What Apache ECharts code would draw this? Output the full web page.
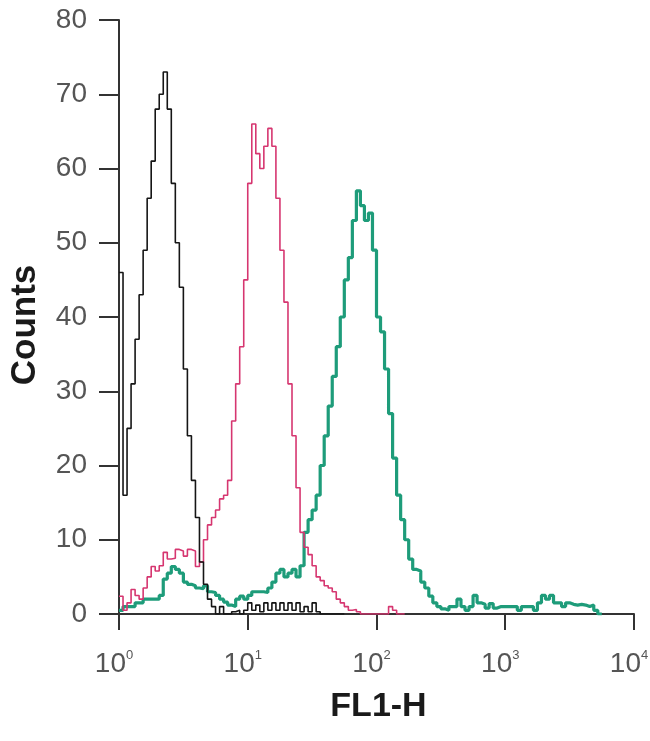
<!DOCTYPE html>
<html>
<head>
<meta charset="utf-8">
<script src="https://cdn.jsdelivr.net/npm/echarts@6/dist/echarts.min.js"></script>
<style>
  html, body { margin: 0; padding: 0; background: #ffffff; }
  #chart { width: 650px; height: 741px; }
</style>
</head>
<body>
<div id="chart"></div>
<script>
// Histogram channels: 32 channels per decade, channel c corresponds to FL1-H = 10^(c/32)
const channelsPerDecade = 32;

// Black (control) histogram counts, from channel 0
const blackCounts = [
  46, 16, 25, 31, 37, 43, 49, 56, 61, 68,
  70, 73, 68, 58, 50, 44, 33, 24, 18, 13,
  7, 4, 2, 1, 0, 1, 0, 0, 0.3, 0.5,
  0, 0.5, 1.5, 0.5, 1.2, 0.3, 1.5, 0.5, 1.5, 0.5,
  1.5, 0.5, 1.5, 0.5, 1.5, 0.3, 1, 0.3, 1.5, 0.3,
  0, 0, 0, 0, 0, 0
];

// Magenta histogram counts, from channel 0
const magentaCounts = [
  2.4, 0.5, 1.5, 3.3, 2.5, 2, 3.5, 5, 6.4, 5.8,
  6.5, 8.3, 7.4, 7.5, 8.7, 8.5, 7.8, 8.7, 8.5, 6.4,
  7, 10, 12, 13, 14, 15.5, 16, 18, 26, 31,
  36, 45, 58, 66, 62, 60, 63, 65.4, 63, 56,
  49, 42, 31, 24, 17, 11, 9, 8, 6.5, 5,
  4.5, 3.8, 3.5, 3, 2, 1.5, 1, 0.5, 0.6, 0.3,
  0, 0, 0, 0, 0, 0, 0, 1, 0.5, 0,
  0
];

// Green histogram counts, from channel 0
const greenCounts = [
  0.5, 1, 1, 1, 1.5, 1.5, 2, 2, 2, 2,
  2.5, 4.7, 5.5, 6.4, 6, 5.5, 4.3, 4, 3.8, 3.5,
  3.4, 3.8, 3, 2.9, 2.5, 2, 1.6, 1.2, 1, 2,
  2.4, 2, 2.5, 3, 3, 3, 2.9, 3.5, 4.3, 5.5,
  6, 5, 5.5, 6, 5, 6.5, 11, 12.7, 14, 16,
  20, 24, 28, 32, 36, 40, 45, 48, 53, 57,
  55, 53, 54, 49, 40, 38, 33, 27, 21, 16,
  12.7, 10, 7.4, 6, 5.8, 4.3, 3.5, 2.4, 1.5, 1,
  0.7, 0.5, 1, 1, 2, 1, 0.5, 1, 2.5, 1.5,
  1.3, 0.8, 1.4, 0.8, 1, 1, 1, 1, 1, 0.5,
  1, 1, 1, 0.5, 1.5, 2.5, 2, 2.5, 1.5, 1.5,
  1, 1.5, 1.3, 1.2, 1.3, 1.2, 1, 1.2, 0.5, 0
];

// Axis ticks
const xTickExponents = [0, 1, 2, 3, 4];
const yTicks = [0, 10, 20, 30, 40, 50, 60, 70, 80];
const xAxisTitle = 'FL1-H';
const yAxisTitle = 'Counts';

function toSeriesData(counts) {
  const pts = counts.map((c, i) => [Math.pow(10, i / channelsPerDecade), c]);
  // closing edge of the last bin
  pts.push([Math.pow(10, counts.length / channelsPerDecade), counts[counts.length - 1]]);
  return pts;
}

const tickFont = "'Liberation Sans', Arial, sans-serif";
const titleFont = "'Liberation Sans', Arial, sans-serif";
const tickColor = '#555555';
const axisColor = '#333333';

const chart = echarts.init(document.getElementById('chart'), null, { renderer: 'canvas' });
chart.setOption({
  animation: false,
  backgroundColor: '#ffffff',
  grid: { left: 119, right: 16, top: 20, bottom: 127, containLabel: false, outerBoundsMode: 'none' },
  xAxis: {
    type: 'log',
    logBase: 10,
    min: Math.pow(10, xTickExponents[0]),
    max: Math.pow(10, xTickExponents[xTickExponents.length - 1]),
    name: xAxisTitle,
    nameLocation: 'middle',
    nameGap: 76,
    nameTextStyle: { fontFamily: titleFont, fontWeight: 'bold', fontSize: 34, color: '#1a1a1a', padding: [0, 0, 0, 4] },
    axisLine: { show: true, lineStyle: { color: axisColor, width: 2 } },
    axisTick: { show: true, inside: false, length: 16, lineStyle: { color: axisColor, width: 2 } },
    minorTick: { show: false },
    splitLine: { show: false },
    axisLabel: {
      margin: 35,
      padding: [0, 10, 0, 0],
      formatter: function (v) {
        const e = Math.round(Math.log10(v));
        return '{b|10}{s|' + e + '}';
      },
      rich: {
        b: { fontFamily: tickFont, fontSize: 28, color: tickColor, lineHeight: 30 },
        s: { fontFamily: tickFont, fontSize: 13, color: tickColor, verticalAlign: 'top', lineHeight: 26 }
      }
    }
  },
  yAxis: {
    type: 'value',
    min: yTicks[0],
    max: yTicks[yTicks.length - 1],
    interval: yTicks[1] - yTicks[0],
    name: yAxisTitle,
    nameLocation: 'middle',
    nameRotate: 90,
    nameGap: 76,
    nameTextStyle: { fontFamily: titleFont, fontWeight: 'bold', fontSize: 35, color: '#1a1a1a', padding: [0, 16, 0, 0] },
    axisLine: { show: true, lineStyle: { color: axisColor, width: 2 } },
    axisTick: { show: true, inside: false, length: 20, lineStyle: { color: axisColor, width: 2 } },
    splitLine: { show: false },
    axisLabel: { margin: 32, fontFamily: tickFont, fontSize: 28, color: tickColor }
  },
  series: [
    {
      name: 'green', type: 'line', step: 'end', showSymbol: false, symbol: 'none',
      data: toSeriesData(greenCounts),
      lineStyle: { color: '#1e9c7a', width: 3.2 }, z: 2
    },
    {
      name: 'magenta', type: 'line', step: 'end', showSymbol: false, symbol: 'none',
      data: toSeriesData(magentaCounts),
      lineStyle: { color: '#d63670', width: 1.6 }, z: 3
    },
    {
      name: 'black', type: 'line', step: 'end', showSymbol: false, symbol: 'none',
      data: toSeriesData(blackCounts),
      lineStyle: { color: '#151515', width: 1.6 }, z: 4
    }
  ]
});
</script>
</body>
</html>
